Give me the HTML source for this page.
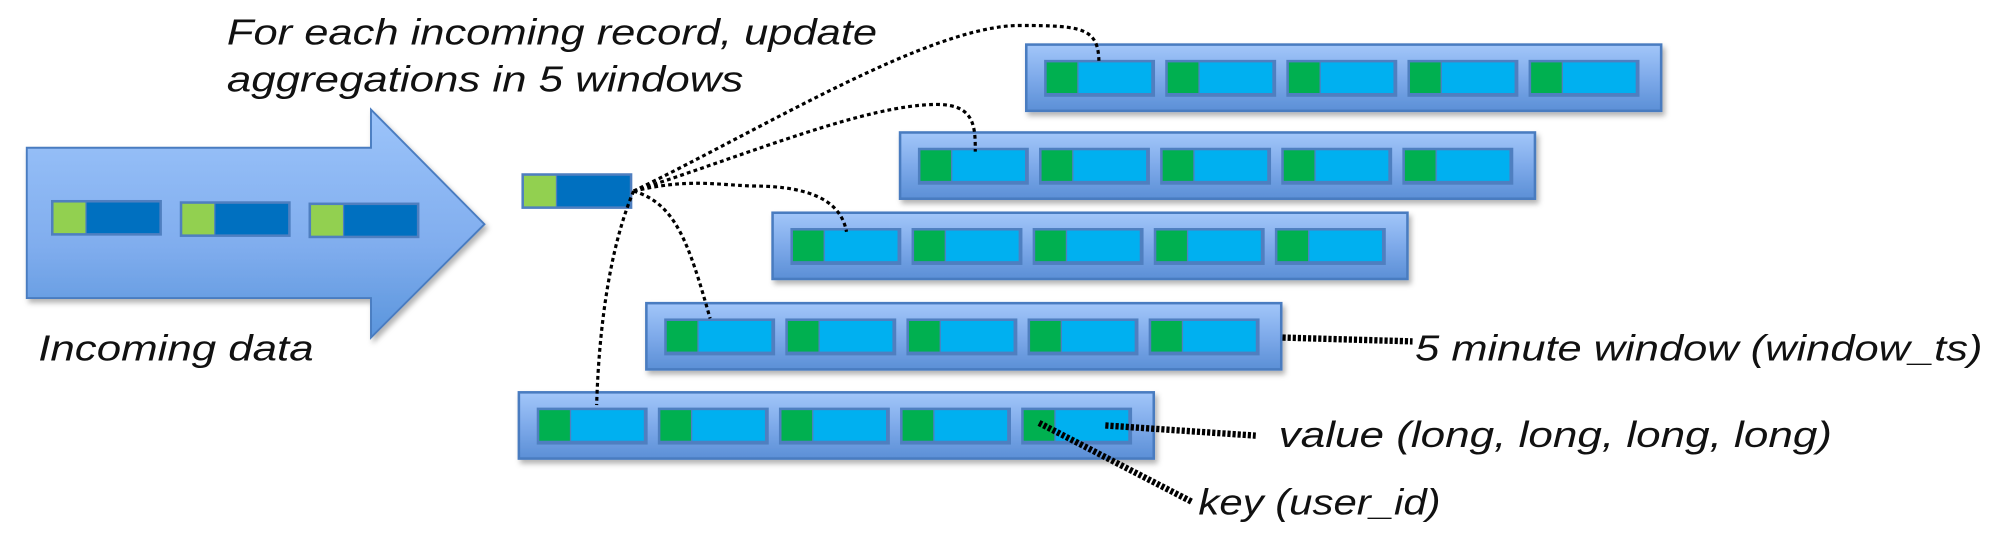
<!DOCTYPE html>
<html><head><meta charset="utf-8"><style>html,body{margin:0;padding:0;background:#fff;width:1999px;height:535px;overflow:hidden}</style></head>
<body>
<svg width="1999" height="535" viewBox="0 0 1568 420" preserveAspectRatio="none" xmlns="http://www.w3.org/2000/svg">
<defs>
<linearGradient id="ag" x1="0" y1="0" x2="0" y2="1"><stop offset="0" stop-color="#9cc4fa"/><stop offset="0.6" stop-color="#80adee"/><stop offset="1" stop-color="#5a95dc"/></linearGradient>
<linearGradient id="pg" x1="0" y1="0" x2="0" y2="1"><stop offset="0" stop-color="#a2c6f9"/><stop offset="0.5" stop-color="#7eaaea"/><stop offset="1" stop-color="#5b8fd6"/></linearGradient>
<filter id="sh" x="-5%" y="-20%" width="110%" height="150%"><feDropShadow dx="2" dy="3" stdDeviation="2" flood-color="#000" flood-opacity="0.3"/></filter>
<g id="cell"><rect x="0" y="0" width="87" height="29" fill="#4f7fc0"/><rect x="2" y="2" width="24" height="24" fill="#00b050"/><rect x="27" y="2" width="57" height="24" fill="#00b0f0"/></g>
<g id="panel"><rect x="0" y="0" width="498" height="52" fill="url(#pg)" stroke="#4a7cc0" stroke-width="2" filter="url(#sh)"/>
<use href="#cell" x="14" y="12"/><use href="#cell" x="109" y="12"/><use href="#cell" x="204" y="12"/><use href="#cell" x="299" y="12"/><use href="#cell" x="394" y="12"/></g>
<g id="rec"><rect x="0" y="0" width="87" height="28" fill="#4f7fc0"/><rect x="2" y="2" width="25" height="24" fill="#92d050"/><rect x="28" y="2" width="57" height="24" fill="#0070c0"/></g>
</defs>
<path d="M21,116 L291,116 L291,86 L380,176 L291,265 L291,234 L21,234 Z" fill="url(#ag)" stroke="#4a7cc0" stroke-width="1.5" filter="url(#sh)"/>
<use href="#rec" x="40" y="157"/><use href="#rec" x="141" y="158"/><use href="#rec" x="242" y="159"/>
<use href="#rec" x="409" y="136"/>
<use href="#panel" x="805" y="35"/>
<use href="#panel" x="706" y="104"/>
<use href="#panel" x="606" y="167"/>
<use href="#panel" x="507" y="238"/>
<use href="#panel" x="407" y="308"/>
<g fill="none" stroke="#000" stroke-width="2.5" stroke-dasharray="3,2.5">
<path d="M497,150 C600,100 730,20 800,20 C850,20 862,22 862,50"/>
<path d="M497,150 C590,120 680,82 735,82 C765,82 765,100 765,119"/>
<path d="M497,150 C540,140 560,145 590,146 C640,146 660,160 664,182"/>
<path d="M497,150 C530,160 540,190 557,250"/>
<path d="M497,150 C480,190 470,250 468,318"/>
</g>
<g stroke="#000" stroke-width="5" stroke-dasharray="2.5,1.5" fill="none">
<path d="M1006,265 L1108,268"/>
<path d="M867,334 L985,342"/>
<path d="M815,332 L935,394"/>
</g>
<g font-family="Liberation Sans, sans-serif" font-style="italic" font-size="28" fill="#111">
<text x="178" y="35" textLength="510" lengthAdjust="spacingAndGlyphs">For each incoming record, update</text>
<text x="178" y="72" textLength="405" lengthAdjust="spacingAndGlyphs">aggregations in 5 windows</text>
<text x="30" y="283" textLength="216" lengthAdjust="spacingAndGlyphs">Incoming data</text>
<text x="1110" y="283" textLength="445" lengthAdjust="spacingAndGlyphs">5 minute window (window_ts)</text>
<text x="1003" y="351" textLength="434" lengthAdjust="spacingAndGlyphs">value (long, long, long, long)</text>
<text x="940" y="404" textLength="190" lengthAdjust="spacingAndGlyphs">key (user_id)</text>
</g>
</svg>
</body></html>
